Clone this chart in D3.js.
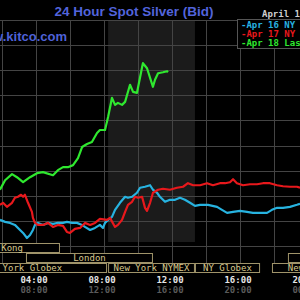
<!DOCTYPE html>
<html>
<head>
<meta charset="utf-8">
<script src="https://cdn.jsdelivr.net/npm/d3@7"></script>
<style>
    html, body { margin: 0; padding: 0; background: #000; overflow: hidden; }
    #chart { width: 300px; height: 300px; }
</style>
</head>
<body>
<div id="chart"></div>
<script>
// Apr 16 NY (cyan)
const apr16Hours = [1.88,2.18,2.47,2.76,3.06,3.24,3.47,3.65,3.82,3.94,4.12,4.41,4.71,5.00,5.29,5.59,5.82,6.12,6.41,6.71,
    6.88,7.18,7.47,7.76,7.94,8.06,8.24,8.47,8.65,8.94,9.24,9.41,9.65,9.94,10.12,10.41,10.71,10.88,11.12,11.29,
    11.59,11.88,12.18,12.47,12.76,13.06,13.35,13.65,14.12,14.65,14.94,15.24,15.59,16.00,16.41,16.76,17.18,17.59,17.88,18.18,
    18.53,18.94,19.35,19.53];
const apr16Price = [16.852,16.848,16.846,16.842,16.832,16.826,16.816,16.822,16.832,16.842,16.846,16.842,16.846,16.844,16.846,16.846,16.848,16.846,16.846,16.842,
    16.838,16.832,16.836,16.842,16.836,16.846,16.852,16.858,16.872,16.886,16.898,16.896,16.898,16.906,16.916,16.918,16.921,16.912,16.906,16.898,
    16.888,16.892,16.892,16.896,16.892,16.886,16.880,16.882,16.882,16.878,16.872,16.866,16.868,16.870,16.868,16.866,16.866,16.866,16.872,16.876,
    16.876,16.878,16.882,16.884];

// Apr 17 NY (red)
const apr17Hours = [1.88,2.06,2.29,2.59,2.76,2.94,3.12,3.24,3.35,3.53,3.76,3.82,3.94,4.12,4.41,4.71,5.00,5.29,5.59,5.82,
    6.00,6.29,6.59,6.88,7.18,7.47,7.76,8.18,8.35,8.65,8.82,9.06,9.24,9.41,9.65,9.82,10.00,10.24,10.41,10.53,
    10.71,10.88,11.18,11.47,11.88,12.29,12.65,12.94,13.24,13.65,14.06,14.41,14.82,15.12,15.41,15.59,15.82,16.18,16.59,17.00,
    17.35,17.76,18.18,18.53,18.94,19.35,19.53];
const apr17Price = [16.882,16.886,16.878,16.886,16.896,16.898,16.902,16.898,16.902,16.886,16.868,16.856,16.846,16.842,16.842,16.846,16.838,16.842,16.840,16.828,
    16.826,16.834,16.836,16.846,16.842,16.846,16.854,16.852,16.856,16.838,16.842,16.852,16.868,16.882,16.888,16.898,16.896,16.898,16.876,16.870,
    16.886,16.906,16.912,16.914,16.912,16.916,16.918,16.925,16.921,16.921,16.925,16.921,16.925,16.925,16.927,16.933,16.925,16.921,16.923,16.923,
    16.925,16.925,16.921,16.919,16.918,16.918,16.916];

// Apr 18 Last (green)
const apr18Hours = [1.88,2.18,2.59,2.88,3.24,3.65,4.06,4.41,5.00,5.29,5.59,5.88,6.18,6.47,6.71,7.00,7.29,7.59,7.76,8.06,
    8.24,8.47,8.65,8.82,9.06,9.24,9.53,9.71,9.94,10.24,10.29,10.53,10.88,11.00,11.18,11.47,11.71,11.76];
const apr18Price = [16.912,16.931,16.943,16.937,16.927,16.937,16.945,16.947,16.941,16.951,16.957,16.957,16.961,16.975,16.997,17.003,17.007,17.025,17.031,17.031,
    17.057,17.095,17.081,17.085,17.081,17.087,17.121,17.107,17.105,17.156,17.164,17.154,17.117,17.131,17.144,17.146,17.148,17.146];

const seriesNames = ["Apr 16 NY Close", "Apr 17 NY Close", "Apr 18 Last"];
const seriesColors = ["#27b3e0", "#e8181c", "#2fe82f"];

// tick labels (local / second row)
const tickHours = [4, 8, 12, 16, 20];
const tickLabels = ["04:00", "08:00", "12:00", "16:00", "20:00"];
const tickLabels2 = ["08:00", "12:00", "16:00", "20:00", "00:00"];

// trading sessions: name, row, start hour, end hour
const sessionNames = ["Hong Kong", "London", "Hong Kong", "New York Globex", "New York NYMEX", "NY Globex", "New York Globex"];
const sessionRows = [0, 1, 1, 2, 2, 2, 2];
const sessionStart = [-1.82, 3.41, 18.82, -1.88, 8.24, 13.35, 17.88];
const sessionEnd = [5.41, 10.88, 27.0, 8.18, 13.35, 17.18, 24.53];

const nymexShade = [8.24, 13.35];

const width = 300, height = 300;
const plotTop = 20, plotBottom = 246;

const svg = d3.select("#chart").append("svg")
    .attr("width", width)
    .attr("height", height)
    .style("background", "#000")
    .style("display", "block");

const x = d3.scaleLinear().domain([4, 16]).range([36, 240]);
const y = d3.scaleLinear().domain([16.80, 17.25]).range([plotBottom, plotTop]);

// shaded NYMEX hours
svg.append("rect")
    .attr("x", x(nymexShade[0]))
    .attr("y", plotTop)
    .attr("width", x(nymexShade[1]) - x(nymexShade[0]))
    .attr("height", 242 - plotTop)
    .style("fill", "#1b1b1b");

// gridlines
const gridX = svg.append("g")
    .attr("transform", "translate(0," + plotTop + ")")
    .call(d3.axisTop(x)
        .tickValues(d3.range(2, 20, 2))
        .tickSize(-(272 - plotTop))
        .tickFormat(""));
gridX.selectAll("line").style("stroke", "#444").style("shape-rendering", "crispEdges");
gridX.select("path").remove();

const gridY = svg.append("g")
    .call(d3.axisLeft(y)
        .tickValues(d3.range(16.80, 17.2501, 0.05))
        .tickSize(-width)
        .tickFormat(""));
gridY.selectAll("line").style("stroke", "#444").style("shape-rendering", "crispEdges");
gridY.select("path").remove();

// lines
const allHours = [apr16Hours, apr17Hours, apr18Hours];
const allPrices = [apr16Price, apr17Price, apr18Price];
const line = d3.line()
    .x(d => x(d[0]))
    .y(d => y(d[1]));

allHours.forEach((hrs, i) => {
    const pts = hrs.map((h, j) => [h, allPrices[i][j]]);
    svg.append("path")
        .datum(pts)
        .attr("d", line)
        .style("fill", "none")
        .style("stroke", seriesColors[i])
        .style("stroke-width", 2.2)
        .style("stroke-linejoin", "round");
});

// session boxes
const rowTop = [243, 253, 263];
sessionNames.forEach((name, i) => {
    const x0 = x(sessionStart[i]), x1 = x(sessionEnd[i]);
    const top = rowTop[sessionRows[i]];
    svg.append("rect")
        .attr("x", x0 + 0.5)
        .attr("y", top + 0.5)
        .attr("width", x1 - x0 - 1)
        .attr("height", 9)
        .style("fill", "#000")
        .style("stroke", "#a0946a")
        .style("stroke-width", 1);
    svg.append("text")
        .attr("x", (x0 + x1) / 2)
        .attr("y", top + 8)
        .attr("text-anchor", "middle")
        .style("font-family", "'DejaVu Sans Mono', monospace")
        .style("font-size", "9px")
        .style("fill", "#d8c98e")
        .text(name);
});

// time labels
tickHours.forEach((h, i) => {
    svg.append("text")
        .attr("x", x(h) - 2)
        .attr("y", 283)
        .attr("text-anchor", "middle")
        .style("font-family", "'DejaVu Sans Mono', monospace")
        .style("font-size", "9px")
        .style("font-weight", "bold")
        .style("fill", "#e6e6e6")
        .text(tickLabels[i]);
    svg.append("text")
        .attr("x", x(h) - 2)
        .attr("y", 293)
        .attr("text-anchor", "middle")
        .style("font-family", "'DejaVu Sans Mono', monospace")
        .style("font-size", "9px")
        .style("font-weight", "bold")
        .style("fill", "#5a5a5a")
        .text(tickLabels2[i]);
});

// title and site
svg.append("text")
    .attr("x", 134)
    .attr("y", 16)
    .attr("text-anchor", "middle")
    .style("font-family", "'Liberation Sans', Arial, sans-serif")
    .style("font-size", "13.5px")
    .style("font-weight", "bold")
    .style("fill", "#5264dc")
    .text("24 Hour Spot Silver (Bid)");

svg.append("text")
    .attr("x", 67)
    .attr("y", 41)
    .attr("text-anchor", "end")
    .style("font-family", "'Liberation Sans', Arial, sans-serif")
    .style("font-size", "13px")
    .style("font-weight", "bold")
    .style("fill", "#4f62d8")
    .text("www.kitco.com");

// legend
svg.append("text")
    .attr("x", 262)
    .attr("y", 17)
    .style("font-family", "'DejaVu Sans Mono', monospace")
    .style("font-size", "9px")
    .style("font-weight", "bold")
    .style("fill", "#cfcfcf")
    .text("April 18, 2018");

svg.append("rect")
    .attr("x", 237.5)
    .attr("y", 19.5)
    .attr("width", 80)
    .attr("height", 29)
    .style("fill", "#000")
    .style("stroke", "#555");

seriesNames.forEach((name, i) => {
    svg.append("text")
        .attr("x", 241)
        .attr("y", 28 + i * 9)
        .style("font-family", "'DejaVu Sans Mono', monospace")
        .style("font-size", "9px")
        .style("font-weight", "bold")
        .style("fill", seriesColors[i])
        .text("-" + name);
});
</script>
</body>
</html>
